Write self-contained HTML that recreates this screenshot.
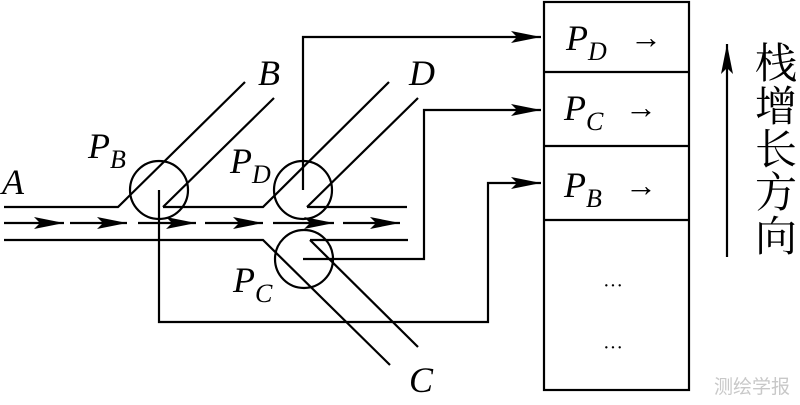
<!DOCTYPE html>
<html><head><meta charset="utf-8"><style>body{margin:0;background:#fff}svg{display:block}</style></head><body>
<svg width="800" height="405" viewBox="0 0 800 405" xmlns="http://www.w3.org/2000/svg">
<defs>
<marker id="a" markerWidth="12" markerHeight="8" refX="12" refY="4" orient="auto" markerUnits="userSpaceOnUse"><path d="M0,0 L12,4 L0,8 L3,4 Z" fill="#000"/></marker>
<marker id="b" markerWidth="30" markerHeight="12" refX="30" refY="6" orient="auto" markerUnits="userSpaceOnUse"><path d="M0,0 L30,6 L0,12 L6,6 Z" fill="#000"/></marker>
</defs>
<g stroke="#000" stroke-width="2.2" fill="none">
<polyline points="4,207 118,207 245,82"/>
<polyline points="163,207 274,98"/>
<polyline points="163,207 263,207 389,82"/>
<polyline points="307,207 418,98"/>
<line x1="307" y1="207" x2="407" y2="207"/>
<polyline points="4,240 263,240 390,365"/>
<polyline points="310,240 408,240"/>
<line x1="310" y1="240" x2="418" y2="347"/>
<circle cx="159" cy="190" r="29"/>
<circle cx="303" cy="190" r="29"/>
<circle cx="304" cy="259" r="29"/>
<polyline points="159,190 159,322 488,322 488,183 541,183" marker-end="url(#b)"/>
<polyline points="303,190 303,37 541,37" marker-end="url(#b)"/>
<polyline points="303,259 424,259 424,110 541,110" marker-end="url(#b)"/>
<rect x="544" y="2" width="145" height="388"/>
<line x1="544" y1="72" x2="689" y2="72"/>
<line x1="544" y1="146" x2="689" y2="146"/>
<line x1="544" y1="220" x2="689" y2="220"/>
<line x1="727" y1="257" x2="727" y2="44" marker-end="url(#b)"/>
</g>
<g stroke="#000" stroke-width="2.2" fill="none">
<line x1="4" y1="223" x2="64" y2="223" marker-end="url(#b)"/>
<line x1="70" y1="223" x2="127" y2="223" marker-end="url(#b)"/>
<line x1="138" y1="223" x2="196" y2="223" marker-end="url(#b)"/>
<line x1="205" y1="223" x2="263" y2="223" marker-end="url(#b)"/>
<line x1="273" y1="223" x2="334" y2="223" marker-end="url(#b)"/>
<line x1="343" y1="223" x2="400" y2="223" marker-end="url(#b)"/>
</g>
<g font-family="Liberation Serif, serif" font-style="italic" font-size="36" fill="#000">
<text x="2" y="194">A</text>
<text x="258" y="85">B</text>
<text x="409" y="85">D</text>
<text x="409" y="392">C</text>
<text x="88" y="158">P<tspan font-size="26" dy="10">B</tspan></text>
<text x="230" y="173">P<tspan font-size="26" dy="10">D</tspan></text>
<text x="233" y="292">P<tspan font-size="26" dy="10">C</tspan></text>
<text x="566" y="50">P<tspan font-size="26" dy="10">D</tspan></text>
<text x="564" y="120">P<tspan font-size="26" dy="10">C</tspan></text>
<text x="564" y="197">P<tspan font-size="26" dy="10">B</tspan></text>
</g>
<g font-family="Liberation Serif, DejaVu Serif, serif" font-size="32" fill="#000">
<text x="630" y="48">→</text>
<text x="625" y="118">→</text>
<text x="625" y="196">→</text>
<text x="603" y="292" font-size="20">···</text>
<text x="603" y="354" font-size="20">···</text>
</g>
<g font-family="Liberation Serif, Noto Serif CJK SC, serif" font-size="42" fill="#000">
<text x="755" y="78">栈</text>
<text x="755" y="121">增</text>
<text x="755" y="164">长</text>
<text x="755" y="207">方</text>
<text x="755" y="251">向</text>
</g>
<text x="714" y="393" font-family="Liberation Sans, Noto Sans CJK SC, sans-serif" font-size="19" fill="#c8c8c8">测绘学报</text>
</svg>
</body></html>
